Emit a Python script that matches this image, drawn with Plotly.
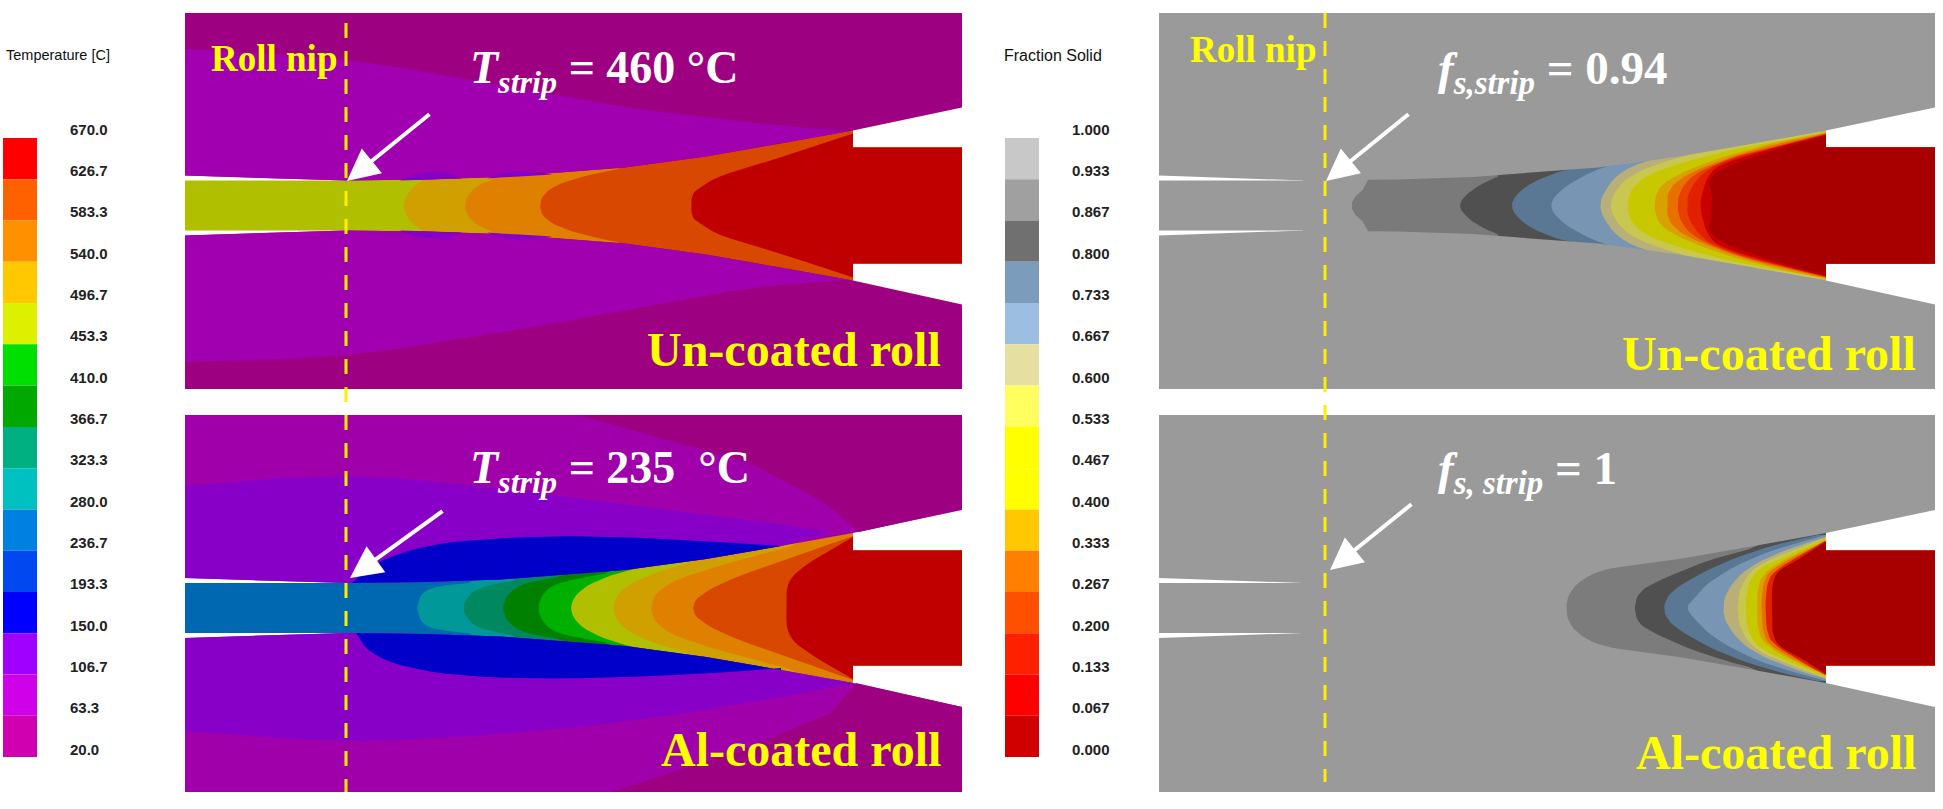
import numpy as np
import plotly.graph_objects as go

# ---------- colour legends ----------
TEMP_LABELS = ["670.0","626.7","583.3","540.0","496.7","453.3","410.0","366.7","323.3","280.0","236.7","193.3","150.0","106.7","63.3","20.0"]
TEMP_COLORS = ["#FF0000","#FF6000","#FF9000","#FFC800","#DCF000","#00E000","#00A800","#00B080","#00C0C0","#0080E0","#0048F0","#0000FF","#A000FF","#D000E8","#D000B0"]
FS_LABELS = ["1.000","0.933","0.867","0.800","0.733","0.667","0.600","0.533","0.467","0.400","0.333","0.267","0.200","0.133","0.067","0.000"]
FS_COLORS = ["#C8C8C8","#A0A0A0","#707070","#7C9CBC","#9CBEE0","#E6E0A0","#FFFF60","#FFFF00","#FFFF00","#FFC800","#FF8000","#FF5000","#FF2000","#FF0000","#D00000"]

# ---------- roll surface (half gap vs. position) ----------
SURF_H = [30,25,26,28.5,38,49,62,75]
SURF_X_LEFT = [185,346,425,500,625,706,781,853]
SURF_X_RIGHT = [1159,1303,1398,1473,1598,1679,1754,1826]

# ---------- contour bands in the strip, panel A (un-coated, temperature) ----------
A_COLORS = ["#B0C000","#D0A000","#E08000","#D84800","#C00000"]
A_X = [[185,346,346],[403,406,414,425,425],[464,469,481,497,497],[539,544,562,594,631,631],[691,692,700,719,781,853]]
A_H = [[25,25,100],[0,10,20,26,100],[0,13,22,27,100],[0,13,23,32,39,100],[0,12,18,30,48,72]]

# ---------- panel B (Al-coated, temperature) ----------
B_COLORS = ["#0068B0","#009898","#008860","#008000","#00B000","#B0C000","#D0A000","#E08000","#D84800","#C00000"]
B_X = [[185,346,346],[416,422,437,487,487],[462,469,484,531,531],[502,507,525,578,578],[537,544,562,631,631],
       [569,578,600,631,700,700],[612,619,644,706,756,756],[650,656,681,750,812,812],[692,697,725,781,853],[786,787,806,853]]
B_H = [[25,25,100],[0,16,22,27,100],[0,14,22,31,100],[0,14,26,34,100],[0,17,27,39,100],
       [0,17,29,39,51,100],[0,17,32,51,61,100],[0,16,31,51,67,100],[0,11,27,47,72],[0,27,44,71]]

# ---------- panel C (un-coated, fraction solid) ----------
C_COLORS = ["#9A9A9A","#7A7A7A","#505050","#5A7894","#7896B4","#B8B078","#C8C850","#C8C800","#D8A000","#E87000","#E84000","#E02000","#C80000","#A80000"]
C_X = [[1159,1303,1303],[1345,1373,1373],[1457,1470,1490,1502,1502],[1508,1525,1560,1594,1594],[1547,1565,1600,1650,1727,1727],
       [1600,1602,1617,1650,1700,1727,1727],[1609,1617,1633,1667,1717,1767,1826],[1627,1630,1643,1667,1700,1750,1800,1826],
       [1654,1657,1667,1693,1733,1783,1826],[1667,1668,1680,1700,1740,1787,1826],[1677,1680,1690,1707,1743,1790,1826],
       [1687,1688,1697,1713,1747,1793,1826],[1700,1702,1707,1717,1750,1797,1826],[1712,1712,1708,1717,1750,1800,1826]]
C_H = [[25,25,100],[0,25,100],[0,15,26,30,100],[0,20,35,40,100],[0,20,38,52,57,100],
       [0,10,32,47,56,58,100],[0,18,32,45,58,67,74],[0,15,28,38,48,60,68,74],
       [0,15,25,38,52,65,73],[0,15,27,37,52,64,72],[0,15,28,38,52,63,72],
       [0,12,27,40,52,63,71],[0,12,28,40,51,64,71],[0,12,23,35,48,63,70]]

# ---------- panel D (Al-coated, fraction solid) ----------
D_COLORS = ["#9A9A9A","#7C7C7C","#505050","#5A7894","#7896B4","#B8B078","#C8C850","#C8C800","#D8A000","#E87000","#E02000","#A80000"]
D_X = [[1159,1303,1303],[1566,1568,1578,1600,1650,1650],[1634,1638,1653,1707,1773,1773],[1663,1668,1683,1723,1773,1817],
       [1687,1690,1713,1757,1807,1825],[1723,1725,1737,1757,1793,1825],[1737,1740,1753,1780,1825],[1745,1748,1760,1783,1825],
       [1757,1758,1767,1793,1825],[1761,1763,1770,1797,1825],[1765,1767,1773,1800,1825],[1772,1772,1778,1803,1825]]
D_H = [[25,25,100],[0,13,26,38,47,100],[0,15,25,48,65,100],[0,13,25,46,63,73],
       [0,6,30,53,68,73],[0,13,31,46,61,71],[0,21,40,53,70],[0,25,41,51,69],
       [0,25,38,53,67],[0,25,38,53,67],[0,25,36,53,67],[0,25,38,51,66]]

# ---------- temperature bands inside the rolls ----------
A_IN_UP_X = [185,346,500,625,781,843]
A_IN_UP_Y = [49,58,85,108,126,131]
A_IN_LO_X = [185,346,500,625,750,843]
A_IN_LO_Y = [362,357,333,310,287,280]
BLOB_X = [[400,412,430,447,462],[487,500,520,540,552]]
BLOB_H = [[25,30,33,33,27],[27,32,34,33,31]]

B_CORNER_UP_X = [578,750,825,859,962,962]
B_CORNER_UP_Y = [415,463,503,532,509,415]
B_CORNER_LO_X = [611,750,831,856,962,962]
B_CORNER_LO_Y = [792,747,713,683,707,792]
B_VIOLET_UP_X = [185,344,500,625,750,831]
B_VIOLET_UP_Y = [486,473,488,505,520,532]
B_VIOLET_LO_X = [185,344,500,625,750,856]
B_VIOLET_LO_Y = [731,743,735,722,703,683]
B_BLUE_UP_X = [352,362,387,437,500,562,625,687,781]
B_BLUE_UP_Y = [583,573,557,543,538,536,537,540,546]
B_BLUE_LO_X = [356,369,406,469,562,687,781]
B_BLUE_LO_Y = [633,653,668,677,679,675,668]

# ---------- annotations ----------
NIP_LINE_X = [346,1325]
NIP_LINE_TOP = [23,13]
NIP_LINE_BOTTOM = [792,782]
ARROW_TIP_X = [347,350,1326,1330]
ARROW_TIP_Y = [181,578,181,570]
ARROW_TAIL_X = [431,444,1410,1413]
ARROW_TAIL_Y = [113,510,113,503]

serif = "Liberation Serif"
sans = "Liberation Sans"
fig = go.Figure()

def poly(x, y, color):
    fig.add_trace(go.Scatter(x=list(x), y=list(y), mode="lines", fill="toself", fillcolor=color,
                             line=dict(width=0), hoverinfo="skip", showlegend=False))

def chaikin(pts, n=2):
    p = np.array(pts, float)
    for _ in range(n):
        q = [p[0]]
        for a, b in zip(p[:-1], p[1:]):
            q += [0.75*a+0.25*b, 0.25*a+0.75*b]
        q.append(p[-1])
        p = np.array(q)
    return p

def band(xs, hs, cy, exit_x, right, h_exit, color):
    if hs[0] == 0:   # contour through the centre line: mirror it and smooth it
        cur = [(x, cy-h) for x, h in zip(reversed(xs), reversed(hs))] + [(x, cy+h) for x, h in zip(xs[1:], hs[1:])]
        c = chaikin(cur)
    else:            # square-ended strip base
        c = np.array([(x, cy-h) for x, h in zip(reversed(xs), reversed(hs))] + [(x, cy+h) for x, h in zip(xs, hs)], float)
    hl = hs[-1]
    xs_all = list(c[:, 0]) + [exit_x, exit_x, right, right, exit_x, exit_x]
    ys_all = list(c[:, 1]) + [cy+hl, cy+h_exit, cy+h_exit, cy-h_exit, cy-h_exit, cy-hl]
    poly(xs_all, ys_all, color)

def rolls(sx, cy, left, right, ytop, ybot, color):
    ux = [left, right, right] + list(reversed(sx))
    uy = [ytop, ytop, cy-98] + [cy-h for h in reversed(SURF_H)]
    poly(ux, uy, color)
    lx = [left, right, right] + list(reversed(sx))
    ly = [ybot, ybot, cy+99] + [cy+h for h in reversed(SURF_H)]
    poly(lx, ly, color)

def on_surface(cx, cy_list, sx, cy, sign, color):
    """Region bounded by a hand-read curve and the part of the roll surface under it."""
    sp = [(x, cy+sign*h) for x, h in zip(sx, SURF_H) if cx[0] <= x <= cx[-1]+12]
    c = chaikin(list(zip(cx, cy_list)))
    px = list(c[:, 0]) + [p[0] for p in reversed(sp)]
    py = list(c[:, 1]) + [p[1] for p in reversed(sp)]
    poly(px, py, color)

# Panel A
for c, x, h in zip(A_COLORS, A_X, A_H):
    band(x, h, 205.5, 853, 962, 58, c)
rolls(SURF_X_LEFT, 205.5, 185, 962, 13, 389, "#9E0082")
on_surface(A_IN_UP_X, A_IN_UP_Y, SURF_X_LEFT, 205.5, -1, "#A000B0")
on_surface(A_IN_LO_X, A_IN_LO_Y, SURF_X_LEFT, 205.5, 1, "#A000B0")
for x, h in zip(BLOB_X, BLOB_H):
    for sign in (-1, 1):
        poly(x + list(reversed(x)), [205.5+sign*v for v in h] + [205.5+sign*(h[0]+(h[-1]-h[0])*t) for t in (1, .75, .5, .25, 0)], "#8400C8")

# Panel B
for c, x, h in zip(B_COLORS, B_X, B_H):
    band(x, h, 608, 853, 962, 57.5, c)
rolls(SURF_X_LEFT, 608, 185, 962, 415, 792, "#A000AA")
poly(B_CORNER_UP_X, B_CORNER_UP_Y, "#9E0082")
poly(B_CORNER_LO_X, B_CORNER_LO_Y, "#9E0082")
on_surface(B_VIOLET_UP_X, B_VIOLET_UP_Y, SURF_X_LEFT, 608, -1, "#8800C8")
on_surface(B_VIOLET_LO_X, B_VIOLET_LO_Y, SURF_X_LEFT, 608, 1, "#8800C8")
on_surface(B_BLUE_UP_X, B_BLUE_UP_Y, SURF_X_LEFT, 608, -1, "#0000C8")
on_surface(B_BLUE_LO_X, B_BLUE_LO_Y, SURF_X_LEFT, 608, 1, "#0000C8")

# Panel C
for c, x, h in zip(C_COLORS, C_X, C_H):
    band(x, h, 205.5, 1826, 1935, 58, c)
rolls(SURF_X_RIGHT, 205.5, 1159, 1935, 13, 389, "#9A9A9A")

# Panel D
for c, x, h in zip(D_COLORS, D_X, D_H):
    band(x, h, 608, 1826, 1935, 57.5, c)
rolls(SURF_X_RIGHT, 608, 1159, 1935, 415, 792, "#9A9A9A")

# Colour bars
BAR_HEIGHT = 41.27
BAR_TOP = 138
tops = [BAR_TOP + i*BAR_HEIGHT for i in range(15)]
fig.add_trace(go.Bar(x=[20]*15, y=[BAR_HEIGHT]*15, base=tops, width=34, marker=dict(color=TEMP_COLORS, line_width=0),
                     hoverinfo="skip", showlegend=False))
fig.add_trace(go.Bar(x=[1022]*15, y=[BAR_HEIGHT]*15, base=tops, width=34, marker=dict(color=FS_COLORS, line_width=0),
                     hoverinfo="skip", showlegend=False))
label_y = [131 + i*41.33 for i in range(16)]
fig.add_trace(go.Scatter(x=[70]*16, y=label_y, mode="text", text=TEMP_LABELS, textposition="middle right",
                         textfont=dict(family=sans, size=15, color="#222", weight="bold"), hoverinfo="skip", showlegend=False))
fig.add_trace(go.Scatter(x=[1072]*16, y=label_y, mode="text", text=FS_LABELS, textposition="middle right",
                         textfont=dict(family=sans, size=15, color="#222", weight="bold"), hoverinfo="skip", showlegend=False))

# Nip lines
for x, t, b in zip(NIP_LINE_X, NIP_LINE_TOP, NIP_LINE_BOTTOM):
    fig.add_trace(go.Scatter(x=[x, x], y=[t, b], mode="lines", line=dict(color="#FFEE00", width=3, dash="15px,13px"),
                             hoverinfo="skip", showlegend=False))

def text(x, y, s, size, color, family=serif, anchor="left"):
    fig.add_annotation(x=x, y=y, xref="x", yref="y", text=s, showarrow=False, xanchor=anchor, yanchor="middle",
                       font=dict(family=family, size=size, color=color))

text(4, 55, "Temperature [C]", 14.5, "#111", sans)
text(1002, 55, "Fraction Solid", 16, "#111", sans)
text(209, 58, "<b>Roll nip</b>", 37, "#FFFF00")
text(1188, 49, "<b>Roll nip</b>", 37, "#FFFF00")
text(468, 71, "<b><i>T</i><sub><i>strip</i></sub> = 460 °C</b>", 46, "#FFFFFF")
text(468, 471, "<b><i>T</i><sub><i>strip</i></sub> = 235  °C</b>", 46, "#FFFFFF")
text(1436, 71, "<b><i>f</i><sub><i>s,strip</i></sub> = 0.94</b>", 47, "#FFFFFF")
text(1436, 471, "<b><i>f</i><sub><i>s, strip</i></sub> = 1</b>", 47, "#FFFFFF")
text(943, 349, "<b>Un-coated roll</b>", 48, "#FFFF00", anchor="right")
text(943, 749, "<b>Al-coated roll</b>", 48, "#FFFF00", anchor="right")
text(1918, 353, "<b>Un-coated roll</b>", 48, "#FFFF00", anchor="right")
text(1918, 752, "<b>Al-coated roll</b>", 48, "#FFFF00", anchor="right")

for tx, ty, ax, ay in zip(ARROW_TIP_X, ARROW_TIP_Y, ARROW_TAIL_X, ARROW_TAIL_Y):
    fig.add_annotation(x=tx, y=ty, ax=ax, ay=ay, xref="x", yref="y", axref="x", ayref="y", text="", showarrow=True,
                       arrowhead=2, arrowsize=1.6, arrowwidth=4, arrowcolor="#FFFFFF")

fig.update_layout(width=1943, height=809, margin=dict(l=0, r=0, t=0, b=0), plot_bgcolor="white", paper_bgcolor="white",
                  barmode="overlay", showlegend=False,
                  xaxis=dict(range=[0, 1943], visible=False, fixedrange=True),
                  yaxis=dict(range=[809, 0], visible=False, fixedrange=True))
fig.write_html("out.html", config=dict(displayModeBar=False),
               post_script="document.body.style.margin='0';document.body.style.overflow='hidden';")
